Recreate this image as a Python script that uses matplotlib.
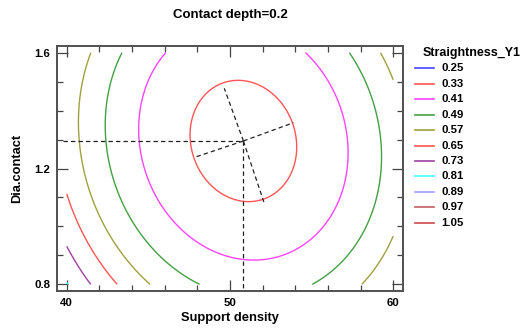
import numpy as np
import matplotlib.pyplot as plt
from matplotlib.lines import Line2D

plt.switch_backend('agg')
plt.rcParams['font.family'] = ['Liberation Sans', 'DejaVu Sans']

# contour levels and their colours (Straightness_Y1)
levels = [0.25, 0.33, 0.41, 0.49, 0.57, 0.65, 0.73, 0.81, 0.89, 0.97, 1.05]
level_colors = ['#4444ff', '#ff5555', '#ff44ff', '#44a044', '#a0a040', '#ff5555',
                '#a040a0', '#44ffff', '#a0a0ff', '#c06060', '#d04848']

# fitted response surface, Contact depth fixed at 0.2
x_range = [40.0, 60.0]
y_range = [0.8, 1.6]
center = [50.82, 1.295]
y_min = 0.302
coef_xx = 0.00265
coef_xy = 0.00823
coef_yy = 0.645

# principal axes of the stationary point (end points)
axis_ends = [(49.65, 1.477), (52.10, 1.080), (47.85, 1.239), (53.88, 1.358)]

x_ticks = [40, 50, 60]
y_ticks = [0.8, 1.2, 1.6]

fig = plt.figure(figsize=(5.24, 3.31), dpi=100)
ax = fig.add_axes([57 / 524, 40 / 331, 346 / 524, 245 / 331])

xs = np.linspace(x_range[0], x_range[1], 300)
ys = np.linspace(y_range[0], y_range[1], 300)
X, Y = np.meshgrid(xs, ys)
U = X - center[0]
V = Y - center[1]
Z = y_min + coef_xx * U ** 2 + coef_xy * U * V + coef_yy * V ** 2

ax.contour(X, Y, Z, levels=levels, colors=level_colors, linewidths=1)

dash = dict(color='#222222', lw=0.9, ls=(0, (3.5, 2.5)))
ax.plot([39.75, center[0]], [center[1], center[1]], **dash)
ax.plot([center[0], center[0]], [center[1], 0.778], **dash)
for ex, ey in axis_ends:
    ax.plot([center[0], ex], [center[1], ey], **dash)

ax.set_xlim(39.4, 60.6)
ax.set_ylim(0.777, 1.623)
ax.set_xticks(x_ticks)
ax.set_yticks(y_ticks)
ax.set_xticks(np.arange(40, 61, 2), minor=True)
ax.set_yticks(np.arange(0.8, 1.61, 0.1), minor=True)
ax.set_xticklabels([str(t) for t in x_ticks], fontsize=8.2, fontweight='bold')
ax.set_yticklabels([str(t) for t in y_ticks], fontsize=8.2, fontweight='bold')
ax.tick_params(which='both', direction='in', top=True, right=True, color='#444444', width=0.9)
ax.tick_params(which='major', length=8, pad=5)
ax.tick_params(which='minor', length=4)
for s in ax.spines.values():
    s.set_color('#505050')
    s.set_linewidth(1.4)

ax.set_xlabel('Support density', fontsize=9.3, fontweight='bold', labelpad=3)
ax.set_ylabel('Dia.contact', fontsize=9.3, fontweight='bold', labelpad=8)
fig.text(230 / 524, 1 - 15 / 331, 'Contact depth=0.2', fontsize=9.5, fontweight='bold',
         ha='center', va='center')

# legend drawn by hand to match the layout
fig.text(423 / 524, 1 - 52.7 / 331, 'Straightness_Y1', fontsize=9, fontweight='bold',
         ha='left', va='center')
for i, (lev, col) in enumerate(zip(levels, level_colors)):
    yy = 1 - (68.3 + i * 15.44) / 331
    fig.add_artist(Line2D([415 / 524, 434 / 524], [yy, yy], color=col, lw=1.2,
                          transform=fig.transFigure))
    fig.text(441.5 / 524, yy, '%.2f' % lev, fontsize=8.2, fontweight='bold',
             ha='left', va='center')

fig.savefig('out.png', dpi=100)
